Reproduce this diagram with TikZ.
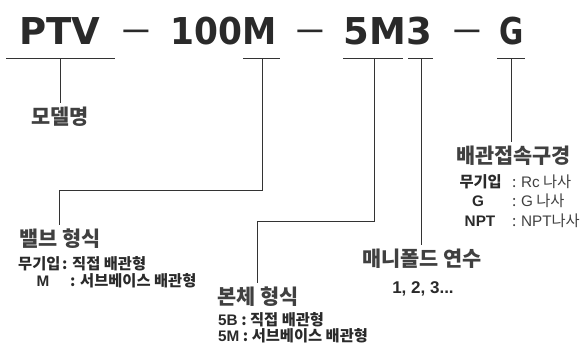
\documentclass[tikz,border=0pt]{standalone}
\usepackage{fontspec}
\setmainfont{Liberation Sans}
\newfontfamily\ko{Noto Sans CJK KR}
\newfontfamily\ttlfont{DejaVu Sans}
\definecolor{txt}{HTML}{2A2A2A}
\definecolor{hdr}{HTML}{404040}
\definecolor{lnc}{HTML}{333333}
\newcommand{\lt}[1]{{\normalfont\bfseries #1}}
\newcommand{\lr}[1]{{\normalfont\mdseries #1}}
\begin{document}
\begin{tikzpicture}[x=1pt,y=-1pt]
\useasboundingbox (0,0) rectangle (588,349);
\tikzset{
  ttl/.style={inner sep=0pt, anchor=base, text=txt, font=\ttlfont\bfseries\fontsize{37}{37}\selectfont},
  dashmark/.style={inner sep=0pt, anchor=base, text=txt, font=\ttlfont\fontsize{37}{37}\selectfont},
  hdrbox/.style={inner sep=0pt, outer ysep=4pt, anchor=north west, text=hdr, font=\ko\bfseries\fontsize{20.8}{21}\selectfont},
  sub/.style={inner sep=0pt, anchor=base west, text=txt, font=\ko\bfseries\fontsize{15.3}{16}\selectfont},
  subc/.style={sub, anchor=base},
  reg/.style={inner sep=0pt, anchor=base west, text=hdr, font=\ko\fontsize{15.3}{16}\selectfont},
  ln/.style={draw=lnc, line width=1pt}
}
% title
\node[ttl] (ptv) at (60,44) {PTV};
\node[dashmark] (d1) at (136.5,44) {\raisebox{2.5pt}{\scalebox{0.75}[1]{—}}};
\node[ttl] (n100) at (224,44) {\scalebox{0.93}[1]{100M}};
\node[dashmark] (d2) at (310,44) {\raisebox{2.5pt}{\scalebox{0.75}[1]{—}}};
\node[ttl] (n5m3) at (388,44) {5M3};
\node[dashmark] (d3) at (467,44) {\raisebox{2.5pt}{\scalebox{0.75}[1]{—}}};
\node[ttl] (ng) at (512,44) {\scalebox{0.8}[1]{G}};
% underlines
\draw[ln] (6,58) -- (115,58);
\draw[ln] (243,58) -- (280,58);
\draw[ln] (343,58) -- (403,58);
\draw[ln] (408,58) -- (433,58);
\draw[ln] (497,58) -- (525,58);
\coordinate (c1) at (60,58);
\coordinate (c2) at (262,58);
\coordinate (c3) at (374,58);
\coordinate (c4) at (421,58);
\coordinate (c5) at (511,58);
% headers
\node[hdrbox, anchor=north] (mdl) at (60,103) {모델명};
\node[hdrbox] (hv) at (19,225) {밸브 형식};
\node[hdrbox] (hb) at (217,283) {본체 형식};
\node[hdrbox] (hm) at (362,245) {매니폴드 연수};
\node[hdrbox] (hp) at (456,142) {배관접속구경};
% connectors
\draw[ln] (c1) -- (c1 |- mdl.north);
\draw[ln] (c2) -- ++(0,132) -| (hv.north);
\draw[ln] (c3) -- ++(0,163) -| (hb.north);
\draw[ln] (c4) -- (c4 |- hm.north);
\draw[ln] (c5) -- (c5 |- hp.north);
% valve sub lines
\node[sub] (v1a) at (18,269) {무기입};
\node[sub] (v1b) at (62,269) {: 직접 배관형};
\node[subc] (v2a) at (43,286) {\lt{M}};
\node[sub] (v2b) at (70,286) {: 서브베이스 배관형};
% body sub lines
\node[sub] (b1) at (218,325) {\lt{5B} : 직접 배관형};
\node[sub] (b2) at (218,341) {\lt{5M} : 서브베이스 배관형};
% manifold
\node[subc, font=\normalfont\bfseries\fontsize{17}{18}\selectfont] (m1) at (423,293) {1, 2, 3...};
% port sub lines
\node[sub, anchor=base east] (p1a) at (502,187) {무기입};
\node[reg] (p1b) at (512,187) {: \lr{Rc} 나사};
\node[subc] (p2a) at (478,206) {\lt{G}};
\node[reg] (p2b) at (512,206) {: \lr{G} 나사};
\node[subc] (p3a) at (480,226) {\lt{NPT}};
\node[reg] (p3b) at (512,226) {: \lr{NPT}나사};
\end{tikzpicture}
\end{document}
